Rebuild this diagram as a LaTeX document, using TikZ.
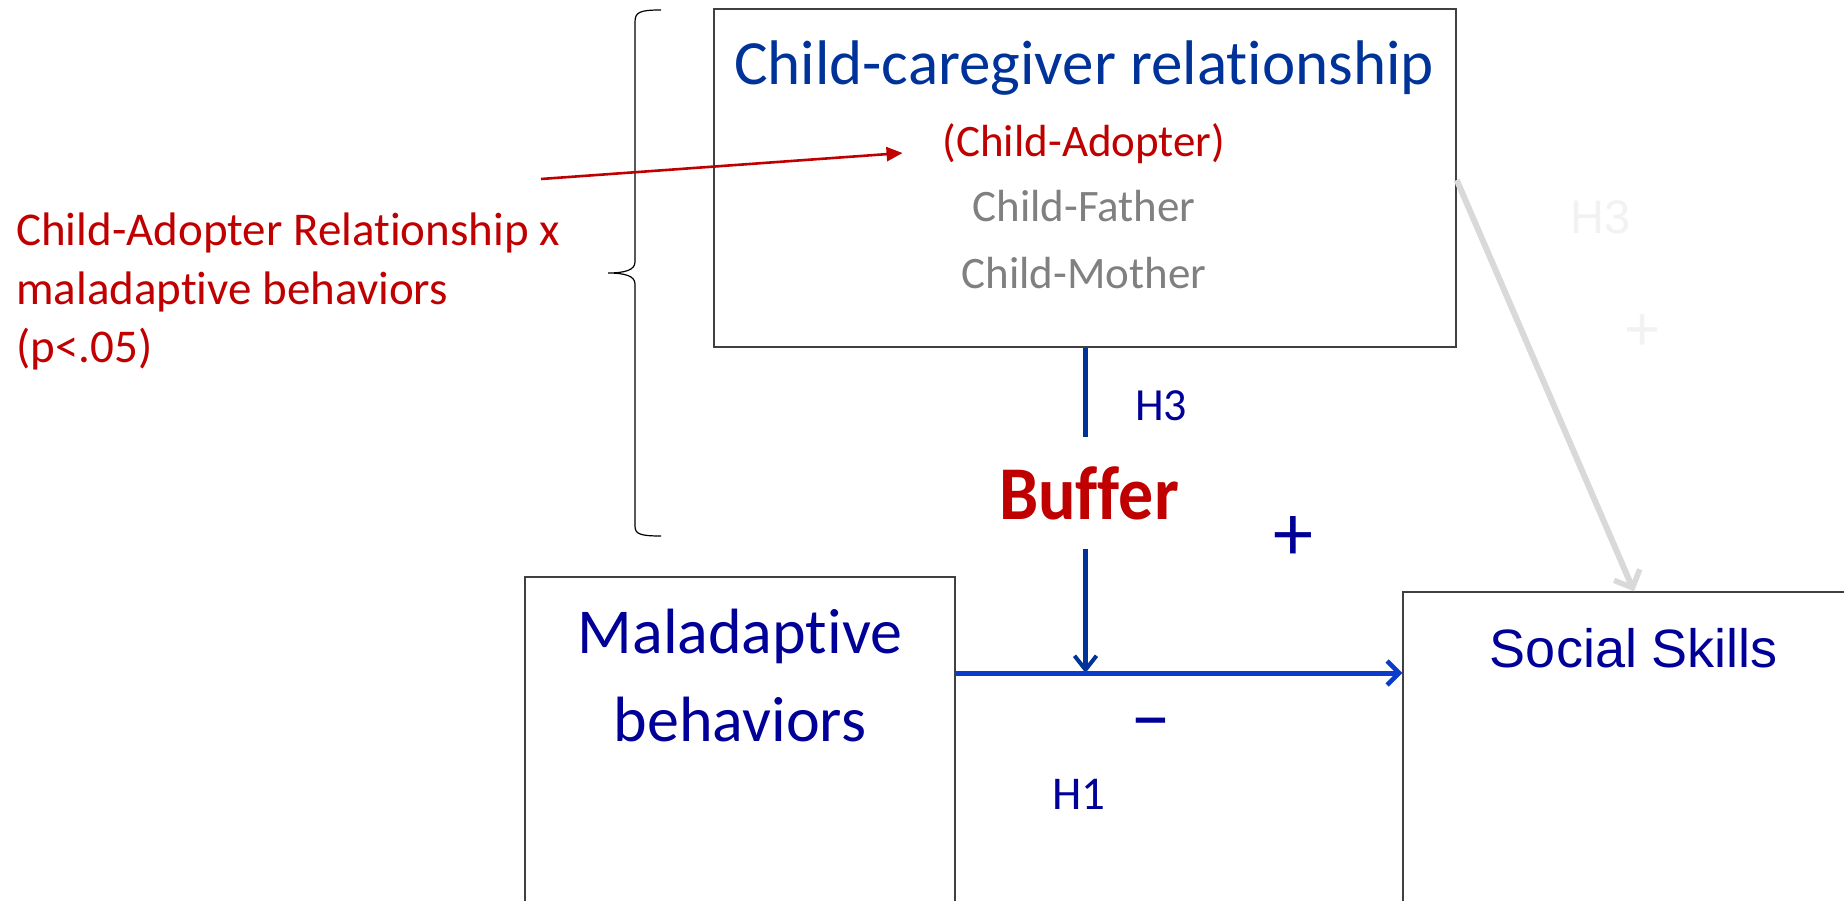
\documentclass[tikz,border=0pt]{standalone}
\usepackage{fontspec}
\setmainfont[Ligatures=NoCommon]{Carlito}
\newfontfamily\bufferfont[Ligatures=NoCommon,FakeStretch=0.92]{Carlito}
\newfontfamily\arialf{Liberation Sans}
\usetikzlibrary{arrows.meta}
\definecolor{titleblue}{HTML}{003399}
\definecolor{navy}{HTML}{000099}
\definecolor{redc}{HTML}{C00000}
\definecolor{grayt}{HTML}{808080}
\definecolor{vblue}{HTML}{003399}
\definecolor{hblue}{HTML}{0B3BCB}
\definecolor{lgray}{HTML}{D9D9D9}
\definecolor{faint}{HTML}{F2F2F2}
\definecolor{boxc}{HTML}{404040}
\tikzset{
  box/.style={draw=boxc, line width=1.4pt, inner sep=0pt},
  txt/.style={inner sep=0pt, anchor=base},
  redtxt/.style={inner sep=0pt, anchor=base west, text=redc, font=\fontsize{47}{58}\selectfont},
}
\begin{document}
\begin{tikzpicture}[x=1pt,y=-1pt]
\clip (0,0) rectangle (1844,901);
\fill[white] (0,0) rectangle (1844,901);
% boxes
\node[box, minimum width=742, minimum height=338] (top) at (1085,178) {};
\node[box, minimum width=430, minimum height=343] (mal) at (740,748.5) {};
\node[box, minimum width=462, minimum height=328] (social) at (1634,756) {};
% top box texts
\node[txt, text=titleblue, font=\fontsize{63}{70}\selectfont] (title) at (1084,85) {Child-caregiver relationship};
\node[txt, text=redc, font=\fontsize{45}{50}\selectfont] (adopter) at (1084,157) {(Child-Adopter)};
\node[txt, text=grayt, font=\fontsize{45}{50}\selectfont] (father) at (1084,222) {Child-Father};
\node[txt, text=grayt, font=\fontsize{45}{50}\selectfont] (mother) at (1084,288) {Child-Mother};
% left red text
\node[redtxt] (l1) at (16,246) {Child-Adopter Relationship x};
\node[redtxt] (l2) at (16,305) {maladaptive behaviors};
\node[redtxt] (l3) at (16,362) {(p<.05)};
% brace
\draw[line width=1.2pt, black] (661,10) .. controls (640,10) and (635,12) .. (635,22) -- (635,262)
  .. controls (635,270) and (625,273) .. (608,273)
  .. controls (625,273) and (635,276) .. (635,284) -- (635,526)
  .. controls (635,534) and (640,536) .. (661,536);
% red arrow
\coordinate (redstart) at (541,179);
\draw[redc, line width=2.6pt, -{Triangle[length=16pt,width=14pt]}] (redstart) -- ([xshift=-40pt,yshift=4pt]adopter.base west);
% buffer
\node[txt, text=redc, font=\bufferfont\bfseries\fontsize{76}{80}\selectfont, inner ysep=29pt, inner xsep=0pt] (buffer) at (1089,519) {Buffer};
\coordinate (v) at (1085.5,0);
\coordinate (h) at (0,673);
\draw[vblue, line width=5pt] (top.south -| v) -- (v |- buffer.north);
\draw[vblue, line width=4.5pt, -{Straight Barb[length=14pt,width=22pt,line width=4pt]}] (v |- buffer.south) -- (v |- h);
\draw[hblue, line width=5pt, -{Straight Barb[length=12pt,width=24pt,line width=4.5pt]}] (mal.east |- h) -- (social.west |- h);
% gray arrow
\draw[lgray, line width=6pt, -{Straight Barb[length=14pt,width=28pt,line width=5.5pt]}] ([yshift=-2pt]top.east) -- (social.north);
% labels
\node[txt, text=navy, font=\fontsize{46}{50}\selectfont] (h3) at (1161,420) {H3};
\node[txt, text=navy, font=\fontsize{80}{80}\selectfont, anchor=center] (plus) at (1293,539) {+};
\node[txt, text=navy, font=\fontsize{82}{80}\selectfont, anchor=center] (minus) at (1151,731) {–};
\node[txt, text=navy, font=\fontsize{47}{50}\selectfont] (h1) at (1079,809) {H1};
\node[txt, text=navy, font=\fontsize{64}{70}\selectfont] (mal1) at (740,653) {Maladaptive};
\node[txt, text=navy, font=\fontsize{64}{70}\selectfont] (mal2) at (740,741) {behaviors};
\node[txt, text=navy, font=\arialf\fontsize{54}{60}\selectfont] (soc) at (1634,667) {Social Skills};
\node[txt, text=faint, font=\arialf\fontsize{47}{50}\selectfont] (fh3) at (1601,234) {H3};
\node[txt, text=faint, font=\arialf\fontsize{62}{70}\selectfont, anchor=center] (fplus) at (1643,333) {+};
\end{tikzpicture}
\end{document}
